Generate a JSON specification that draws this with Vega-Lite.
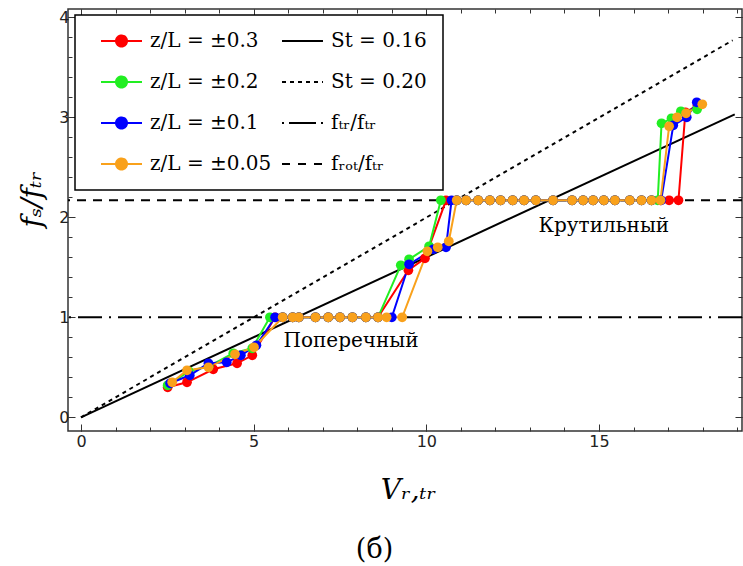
{
  "$schema": "https://vega.github.io/schema/vega-lite/v6.json",
  "width": 674,
  "height": 422,
  "autosize": {"type": "none"},
  "padding": {"left": 68, "top": 9, "right": 1, "bottom": 135},
  "background": "white",
  "config": {
    "view": {"stroke": "#333333", "strokeWidth": 1.5},
    "axis": {"domain": false, "grid": false, "tickColor": "#333333", "tickWidth": 1, "labelFont": "DejaVu Sans", "labelFontSize": 16, "labelColor": "#222222"},
    "legend": {"labelFont": "DejaVu Serif"}
  },
  "datasets": {
    "hl": [{"key": "ftr", "y": 1}, {"key": "frot", "y": 2.17}],
    "st": [{"key": "St016", "x": 0, "y": 0}, {"key": "St016", "x": 18.93, "y": 3.03}, {"key": "St020", "x": 0, "y": 0}, {"key": "St020", "x": 18.87, "y": 3.77}],
    "notes": [{"label": "Поперечный", "x": 7.82, "y": 0.70}, {"label": "Крутильный", "x": 15.14, "y": 1.85}],
    "series": [
      {"key": "a03", "x": 2.51, "y": 0.30}, {"key": "a03", "x": 3.07, "y": 0.35}, {"key": "a03", "x": 3.83, "y": 0.48}, {"key": "a03", "x": 4.52, "y": 0.54}, {"key": "a03", "x": 4.96, "y": 0.62}, {"key": "a03", "x": 5.62, "y": 1},
      {"key": "a03", "x": 5.84, "y": 1}, {"key": "a03", "x": 6.13, "y": 1}, {"key": "a03", "x": 6.31, "y": 1}, {"key": "a03", "x": 6.79, "y": 1}, {"key": "a03", "x": 7.16, "y": 1}, {"key": "a03", "x": 7.5, "y": 1}, {"key": "a03", "x": 7.86, "y": 1}, {"key": "a03", "x": 8.25, "y": 1}, {"key": "a03", "x": 8.6, "y": 1},
      {"key": "a03", "x": 9.48, "y": 1.47}, {"key": "a03", "x": 9.96, "y": 1.59}, {"key": "a03", "x": 10.57, "y": 2.17},
      {"key": "a03", "x": 10.88, "y": 2.17}, {"key": "a03", "x": 11.15, "y": 2.17}, {"key": "a03", "x": 11.5, "y": 2.17}, {"key": "a03", "x": 11.84, "y": 2.17}, {"key": "a03", "x": 12.15, "y": 2.17}, {"key": "a03", "x": 12.5, "y": 2.17}, {"key": "a03", "x": 12.83, "y": 2.17}, {"key": "a03", "x": 13.17, "y": 2.17}, {"key": "a03", "x": 13.67, "y": 2.17}, {"key": "a03", "x": 14.22, "y": 2.17}, {"key": "a03", "x": 14.54, "y": 2.17}, {"key": "a03", "x": 14.83, "y": 2.17}, {"key": "a03", "x": 15.14, "y": 2.17}, {"key": "a03", "x": 15.46, "y": 2.17}, {"key": "a03", "x": 15.89, "y": 2.17}, {"key": "a03", "x": 16.23, "y": 2.17}, {"key": "a03", "x": 16.52, "y": 2.17}, {"key": "a03", "x": 16.78, "y": 2.17}, {"key": "a03", "x": 17.03, "y": 2.17}, {"key": "a03", "x": 17.3, "y": 2.17},
      {"key": "a03", "x": 17.5, "y": 3.05}, {"key": "a03", "x": 17.85, "y": 3.12},

      {"key": "a02", "x": 2.51, "y": 0.32}, {"key": "a02", "x": 3.12, "y": 0.46}, {"key": "a02", "x": 3.70, "y": 0.51}, {"key": "a02", "x": 4.41, "y": 0.64}, {"key": "a02", "x": 4.96, "y": 0.69}, {"key": "a02", "x": 5.47, "y": 1},
      {"key": "a02", "x": 5.84, "y": 1}, {"key": "a02", "x": 6.13, "y": 1}, {"key": "a02", "x": 6.31, "y": 1}, {"key": "a02", "x": 6.79, "y": 1}, {"key": "a02", "x": 7.16, "y": 1}, {"key": "a02", "x": 7.5, "y": 1}, {"key": "a02", "x": 7.86, "y": 1}, {"key": "a02", "x": 8.25, "y": 1}, {"key": "a02", "x": 8.6, "y": 1},
      {"key": "a02", "x": 9.26, "y": 1.52}, {"key": "a02", "x": 9.5, "y": 1.58}, {"key": "a02", "x": 10.08, "y": 1.71}, {"key": "a02", "x": 10.42, "y": 2.17},
      {"key": "a02", "x": 10.88, "y": 2.17}, {"key": "a02", "x": 11.15, "y": 2.17}, {"key": "a02", "x": 11.5, "y": 2.17}, {"key": "a02", "x": 11.84, "y": 2.17}, {"key": "a02", "x": 12.15, "y": 2.17}, {"key": "a02", "x": 12.5, "y": 2.17}, {"key": "a02", "x": 12.83, "y": 2.17}, {"key": "a02", "x": 13.17, "y": 2.17}, {"key": "a02", "x": 13.67, "y": 2.17}, {"key": "a02", "x": 14.22, "y": 2.17}, {"key": "a02", "x": 14.54, "y": 2.17}, {"key": "a02", "x": 14.83, "y": 2.17}, {"key": "a02", "x": 15.14, "y": 2.17}, {"key": "a02", "x": 15.46, "y": 2.17}, {"key": "a02", "x": 15.89, "y": 2.17}, {"key": "a02", "x": 16.23, "y": 2.17}, {"key": "a02", "x": 16.52, "y": 2.17}, {"key": "a02", "x": 16.7, "y": 2.17},
      {"key": "a02", "x": 16.81, "y": 2.94}, {"key": "a02", "x": 17.1, "y": 2.99}, {"key": "a02", "x": 17.37, "y": 3.06}, {"key": "a02", "x": 17.84, "y": 3.08},

      {"key": "a01", "x": 2.58, "y": 0.34}, {"key": "a01", "x": 3.15, "y": 0.42}, {"key": "a01", "x": 3.69, "y": 0.54}, {"key": "a01", "x": 4.22, "y": 0.55}, {"key": "a01", "x": 4.63, "y": 0.62}, {"key": "a01", "x": 5.08, "y": 0.72}, {"key": "a01", "x": 5.62, "y": 1},
      {"key": "a01", "x": 5.84, "y": 1}, {"key": "a01", "x": 6.13, "y": 1}, {"key": "a01", "x": 6.31, "y": 1}, {"key": "a01", "x": 6.79, "y": 1}, {"key": "a01", "x": 7.16, "y": 1}, {"key": "a01", "x": 7.5, "y": 1}, {"key": "a01", "x": 7.86, "y": 1}, {"key": "a01", "x": 8.25, "y": 1}, {"key": "a01", "x": 8.6, "y": 1}, {"key": "a01", "x": 9.0, "y": 1},
      {"key": "a01", "x": 9.5, "y": 1.53}, {"key": "a01", "x": 10.2, "y": 1.68}, {"key": "a01", "x": 10.57, "y": 1.70}, {"key": "a01", "x": 10.73, "y": 2.17},
      {"key": "a01", "x": 10.88, "y": 2.17}, {"key": "a01", "x": 11.15, "y": 2.17}, {"key": "a01", "x": 11.5, "y": 2.17}, {"key": "a01", "x": 11.84, "y": 2.17}, {"key": "a01", "x": 12.15, "y": 2.17}, {"key": "a01", "x": 12.5, "y": 2.17}, {"key": "a01", "x": 12.83, "y": 2.17}, {"key": "a01", "x": 13.17, "y": 2.17}, {"key": "a01", "x": 13.67, "y": 2.17}, {"key": "a01", "x": 14.22, "y": 2.17}, {"key": "a01", "x": 14.54, "y": 2.17}, {"key": "a01", "x": 14.83, "y": 2.17}, {"key": "a01", "x": 15.14, "y": 2.17}, {"key": "a01", "x": 15.46, "y": 2.17}, {"key": "a01", "x": 15.89, "y": 2.17}, {"key": "a01", "x": 16.23, "y": 2.17}, {"key": "a01", "x": 16.52, "y": 2.17}, {"key": "a01", "x": 16.8, "y": 2.17},
      {"key": "a01", "x": 17.15, "y": 2.92}, {"key": "a01", "x": 17.54, "y": 3.0}, {"key": "a01", "x": 17.83, "y": 3.15},

      {"key": "a005", "x": 2.64, "y": 0.35}, {"key": "a005", "x": 3.07, "y": 0.47}, {"key": "a005", "x": 3.69, "y": 0.50}, {"key": "a005", "x": 4.46, "y": 0.63}, {"key": "a005", "x": 5.01, "y": 0.70},
      {"key": "a005", "x": 5.84, "y": 1}, {"key": "a005", "x": 6.13, "y": 1}, {"key": "a005", "x": 6.31, "y": 1}, {"key": "a005", "x": 6.79, "y": 1}, {"key": "a005", "x": 7.16, "y": 1}, {"key": "a005", "x": 7.5, "y": 1}, {"key": "a005", "x": 7.86, "y": 1}, {"key": "a005", "x": 8.25, "y": 1}, {"key": "a005", "x": 8.6, "y": 1}, {"key": "a005", "x": 8.85, "y": 1}, {"key": "a005", "x": 9.3, "y": 1},
      {"key": "a005", "x": 10.03, "y": 1.66}, {"key": "a005", "x": 10.33, "y": 1.70}, {"key": "a005", "x": 10.65, "y": 1.76},
      {"key": "a005", "x": 10.88, "y": 2.17}, {"key": "a005", "x": 11.15, "y": 2.17}, {"key": "a005", "x": 11.5, "y": 2.17}, {"key": "a005", "x": 11.84, "y": 2.17}, {"key": "a005", "x": 12.15, "y": 2.17}, {"key": "a005", "x": 12.5, "y": 2.17}, {"key": "a005", "x": 12.83, "y": 2.17}, {"key": "a005", "x": 13.17, "y": 2.17}, {"key": "a005", "x": 13.67, "y": 2.17}, {"key": "a005", "x": 14.22, "y": 2.17}, {"key": "a005", "x": 14.54, "y": 2.17}, {"key": "a005", "x": 14.83, "y": 2.17}, {"key": "a005", "x": 15.14, "y": 2.17}, {"key": "a005", "x": 15.46, "y": 2.17}, {"key": "a005", "x": 15.89, "y": 2.17}, {"key": "a005", "x": 16.23, "y": 2.17}, {"key": "a005", "x": 16.52, "y": 2.17}, {"key": "a005", "x": 16.78, "y": 2.17},
      {"key": "a005", "x": 17.03, "y": 2.91}, {"key": "a005", "x": 17.26, "y": 3.0}, {"key": "a005", "x": 17.52, "y": 3.04}, {"key": "a005", "x": 17.99, "y": 3.13}
    ]
  },
  "encoding": {
    "color": {
      "field": "key",
      "type": "nominal",
      "scale": {
        "domain": ["a03", "a02", "a01", "a005", "St016", "St020", "ftr", "frot"],
        "range": ["#FF0000", "#22EE22", "#0000FF", "#F9A11B", "#000000", "#000000", "#000000", "#000000"]
      },
      "legend": {
        "title": null,
        "orient": "none",
        "legendX": 7,
        "legendY": 6,
        "direction": "vertical",
        "columns": 2,
        "columnPadding": 0,
        "rowPadding": 21,
        "padding": 16,
        "strokeColor": "black",
        "fillColor": "white",
        "symbolSize": 121,
        "symbolStrokeWidth": 2,
        "labelFont": "DejaVu Serif",
        "labelFontSize": 20,
        "labelColor": "black",
        "labelOffset": 39,
        "labelLimit": 300,
        "labelExpr": "datum.value === 'a03' ? 'z/L = ±0.3' : datum.value === 'a02' ? 'z/L = ±0.2' : datum.value === 'a01' ? 'z/L = ±0.1' : datum.value === 'a005' ? 'z/L = ±0.05' : datum.value === 'St016' ? 'St = 0.16' : datum.value === 'St020' ? 'St = 0.20' : datum.value === 'ftr' ? 'fₜᵣ/fₜᵣ' : 'fᵣₒₜ/fₜᵣ'",
        "encode": {
          "legend": {"update": {"strokeWidth": {"value": 1.5}}},
          "labels": {"update": {"font": {"value": "DejaVu Serif"}}},
          "symbols": {
            "update": {
              "shape": {"signal": "indexof(['St016','St020','ftr','frot'], datum.value) >= 0 ? 'M0,0H7.45' : 'M0,0H7.45M4.73,0A1,1,0,1,1,2.73,0A1,1,0,1,1,4.73,0Z'"},
              "strokeDash": {"signal": "datum.value === 'St020' ? [4,4] : datum.value === 'ftr' ? [2,5,27,5] : datum.value === 'frot' ? [8,8] : [1,0]"},
              "fill": {"scale": "color", "field": "value"},
              "stroke": {"scale": "color", "field": "value"},
              "strokeWidth": {"value": 2},
              "opacity": {"value": 1}
            }
          }
        }
      }
    }
  },
  "layer": [
    {
      "data": {"name": "hl"},
      "transform": [{"filter": "datum.key === 'ftr'"}],
      "mark": {"type": "rule", "strokeDash": [24, 7, 2, 7], "strokeWidth": 2},
      "encoding": {
        "y": {"field": "y", "type": "quantitative",
          "scale": {"domain": [-0.137, 4.083], "nice": false, "zero": false},
          "axis": {"orient": "left", "values": [0, 1, 2, 3, 4], "tickSize": -7, "labelPadding": 6,
            "title": "fₛ/fₜᵣ", "titleFont": "DejaVu Serif", "titleFontStyle": "italic", "titleFontWeight": "normal", "titleFontSize": 28, "titleColor": "black",
            "titleAngle": 270, "titleAlign": "center", "titleBaseline": "alphabetic", "titleX": -28, "titleY": 190}}
      }
    },
    {
      "data": {"name": "hl"},
      "transform": [{"filter": "datum.key === 'frot'"}],
      "mark": {"type": "rule", "strokeDash": [9, 7], "strokeWidth": 2},
      "encoding": {
        "y": {"field": "y", "type": "quantitative",
          "scale": {"domain": [-0.137, 4.083], "nice": false, "zero": false},
          "axis": {"orient": "left", "values": [0, 0.2, 0.4, 0.6, 0.8, 1, 1.2, 1.4, 1.6, 1.8, 2, 2.2, 2.4, 2.6, 2.8, 3, 3.2, 3.4, 3.6, 3.8, 4], "tickSize": -4, "labels": false, "title": null}}
      }
    },
    {
      "data": {"name": "st"},
      "transform": [{"filter": "datum.key === 'St016'"}],
      "mark": {"type": "line", "strokeWidth": 2},
      "encoding": {
        "x": {"field": "x", "type": "quantitative",
          "scale": {"domain": [-0.376, 19.14], "nice": false, "zero": false},
          "axis": {"orient": "bottom", "values": [0, 5, 10, 15], "tickSize": -7, "labelPadding": 9,
            "title": "Vᵣ,ₜᵣ", "titleFont": "DejaVu Serif", "titleFontStyle": "italic", "titleFontWeight": "normal", "titleFontSize": 28, "titleColor": "black",
            "titleAlign": "center", "titleBaseline": "alphabetic", "titleX": 340, "titleY": 67}},
        "y": {"field": "y", "type": "quantitative",
          "axis": {"orient": "right", "values": [0, 1, 2, 3, 4], "tickSize": -7, "labels": false, "title": null}}
      }
    },
    {
      "data": {"name": "st"},
      "transform": [{"filter": "datum.key === 'St020'"}],
      "mark": {"type": "line", "strokeWidth": 2, "strokeDash": [4, 4]},
      "encoding": {
        "x": {"field": "x", "type": "quantitative",
          "axis": {"orient": "bottom", "values": [0, 1, 2, 3, 4, 5, 6, 7, 8, 9, 10, 11, 12, 13, 14, 15, 16, 17, 18, 19], "tickSize": -4, "labels": false,
            "title": "(б)", "titleFont": "DejaVu Serif", "titleFontStyle": "normal", "titleFontWeight": "normal", "titleFontSize": 27, "titleColor": "black",
            "titleAlign": "center", "titleBaseline": "alphabetic", "titleX": 306, "titleY": 126}},
        "y": {"field": "y", "type": "quantitative",
          "axis": {"orient": "right", "values": [0, 0.2, 0.4, 0.6, 0.8, 1, 1.2, 1.4, 1.6, 1.8, 2, 2.2, 2.4, 2.6, 2.8, 3, 3.2, 3.4, 3.6, 3.8, 4], "tickSize": -4, "labels": false, "title": null}}
      }
    },
    {
      "data": {"name": "series"},
      "mark": {"type": "line", "strokeWidth": 2},
      "encoding": {
        "x": {"field": "x", "type": "quantitative",
          "axis": {"orient": "top", "values": [0, 5, 10, 15], "tickSize": -7, "labels": false, "title": null}},
        "y": {"field": "y", "type": "quantitative", "axis": null}
      }
    },
    {
      "data": {"name": "series"},
      "mark": {"type": "point", "filled": true, "size": 95, "opacity": 1},
      "encoding": {
        "x": {"field": "x", "type": "quantitative",
          "axis": {"orient": "top", "values": [0, 1, 2, 3, 4, 5, 6, 7, 8, 9, 10, 11, 12, 13, 14, 15, 16, 17, 18, 19], "tickSize": -4, "labels": false, "title": null}},
        "y": {"field": "y", "type": "quantitative", "axis": null}
      }
    },
    {
      "data": {"name": "notes"},
      "mark": {"type": "text", "font": "DejaVu Serif", "fontSize": 20, "align": "center", "baseline": "alphabetic"},
      "encoding": {
        "x": {"field": "x", "type": "quantitative", "axis": null},
        "y": {"field": "y", "type": "quantitative", "axis": null},
        "text": {"field": "label"},
        "color": {"value": "black"}
      }
    }
  ],
  "resolve": {"axis": {"x": "independent", "y": "independent"}}
}
